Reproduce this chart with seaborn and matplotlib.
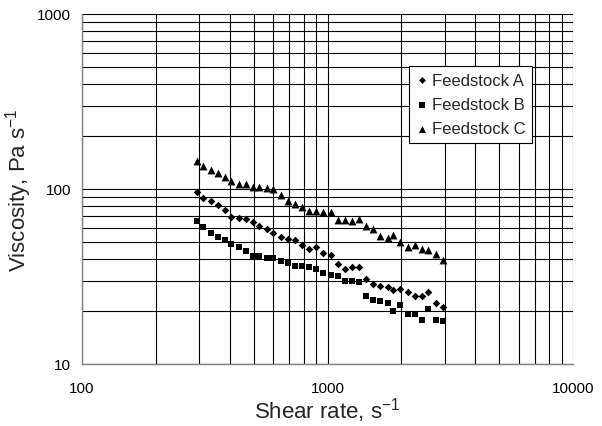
import numpy as np
import pandas as pd
import matplotlib
matplotlib.use("Agg")
import matplotlib.pyplot as plt
import seaborn as sns
from matplotlib.ticker import LogLocator, FuncFormatter, NullFormatter

# Shear rate (s^-1)
shear_rate = [293, 312, 334, 358, 381, 406, 435, 466, 496, 526, 565, 601,
              645, 688, 737, 785, 841, 900, 959, 1030, 1107, 1179, 1262, 1344,
              1431, 1528, 1636, 1759, 1854, 1974, 2121, 2272, 2419, 2574, 2758, 2963]

# Viscosity (Pa s^-1)
feedstock_a = [95.7, 88.8, 85.4, 81.4, 76.1, 69.5, 68.3, 67.4, 64.8, 61.2, 58.7, 56.1,
               53.2, 51.8, 50.9, 47.7, 45.7, 46.4, 43.2, 41.8, 37.3, 34.7, 36.0, 35.8,
               30.6, 28.7, 27.9, 27.4, 26.5, 26.9, 25.7, 24.6, 24.4, 25.8, 22.4, 21.2]
feedstock_b = [65.6, 60.9, 55.9, 53.0, 50.9, 48.7, 46.8, 44.4, 41.6, 41.6, 40.3, 40.2,
               38.6, 37.6, 36.5, 36.5, 35.6, 34.7, 33.1, 32.3, 32.0, 29.7, 29.7, 29.3,
               24.6, 23.2, 22.8, 22.3, 20.2, 21.6, 19.3, 19.2, 17.9, 20.6, 17.9, 17.6]
feedstock_c = [145.1, 135.9, 128.4, 122.9, 116.7, 110.7, 106.4, 106.4, 103.1, 103.1, 101.7, 100.0,
               92.8, 85.7, 82.1, 78.6, 75.2, 74.6, 73.6, 73.6, 66.8, 66.8, 65.9, 67.4,
               61.7, 59.1, 54.1, 52.7, 54.6, 50.0, 46.8, 47.9, 45.4, 45.0, 42.5, 39.3]

series_names = ["Feedstock A", "Feedstock B", "Feedstock C"]

df = pd.concat([
    pd.DataFrame({"x": shear_rate, "y": vals, "series": name})
    for name, vals in zip(series_names, [feedstock_a, feedstock_b, feedstock_c])
], ignore_index=True)

sns.set_style("white")
plt.rcParams["font.family"] = ["Liberation Sans", "DejaVu Sans"]
plt.rcParams["mathtext.fontset"] = "custom"
plt.rcParams["mathtext.rm"] = "Liberation Sans"
plt.rcParams["mathtext.it"] = "Liberation Sans:italic"
plt.rcParams["mathtext.default"] = "regular"

fig = plt.figure(figsize=(6.02, 4.27), dpi=100)
ax = fig.add_axes([82 / 602, 1 - 365 / 427, 491 / 602, 350 / 427])

markers = {"Feedstock A": "D", "Feedstock B": "s", "Feedstock C": "^"}
sizes = {"Feedstock A": 15, "Feedstock B": 20, "Feedstock C": 32}
for name in series_names:
    sub = df[df["series"] == name]
    sns.scatterplot(data=sub, x="x", y="y", ax=ax, marker=markers[name],
                    color="black", edgecolor="black", linewidth=0,
                    s=sizes[name], label=name, zorder=3)

ax.set_xscale("log")
ax.set_yscale("log")
ax.set_xlim(100, 10000)
ax.set_ylim(10, 1000)

ax.xaxis.set_major_locator(LogLocator(base=10))
ax.yaxis.set_major_locator(LogLocator(base=10))
ax.xaxis.set_minor_locator(LogLocator(base=10, subs=np.arange(2, 10)))
ax.yaxis.set_minor_locator(LogLocator(base=10, subs=np.arange(2, 10)))
fmt = FuncFormatter(lambda v, p: f"{int(round(v))}")
ax.xaxis.set_major_formatter(fmt)
ax.yaxis.set_major_formatter(fmt)
ax.xaxis.set_minor_formatter(NullFormatter())
ax.yaxis.set_minor_formatter(NullFormatter())

ax.grid(True, which="both", color="black", linewidth=0.8)
ax.set_axisbelow(True)

for side in ["top", "right"]:
    ax.spines[side].set_visible(False)
for side in ["left", "bottom"]:
    ax.spines[side].set_color("#808080")
    ax.spines[side].set_linewidth(1.0)

ax.tick_params(axis="both", which="major", direction="out", length=4,
               width=0.8, color="#808080", labelsize=11, labelcolor="black")
ax.tick_params(axis="x", which="major", pad=8)
ax.tick_params(axis="y", which="major", pad=4)
ax.tick_params(axis="both", which="minor", length=0)

ax.set_xlabel("Shear rate, s$^{-1}$", fontsize=16, labelpad=0)
ax.set_ylabel("Viscosity, Pa s$^{-1}$", fontsize=16, labelpad=2)

leg = ax.legend(loc="upper right", bbox_to_anchor=(0.917, 0.851), borderaxespad=0,
                frameon=True, fancybox=False, framealpha=1, edgecolor="black",
                fontsize=12, markerscale=0.9, handletextpad=0.2, handlelength=0.8,
                labelspacing=0.55, borderpad=0.4)
leg.get_frame().set_linewidth(0.8)

fig.savefig("out.png", dpi=100)
